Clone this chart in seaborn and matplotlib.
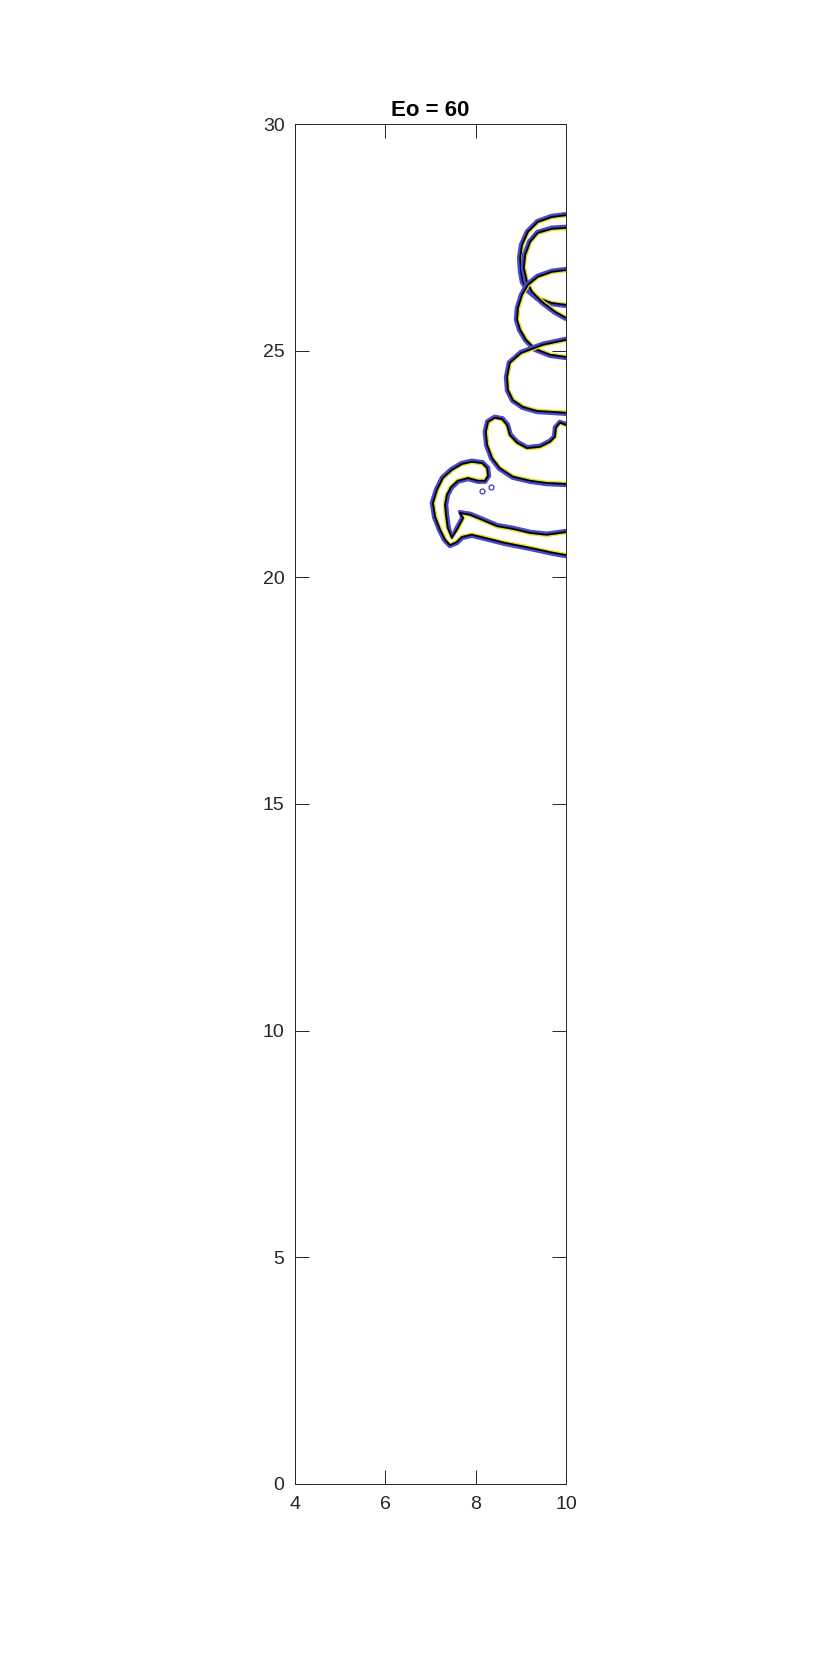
import numpy as np
import pandas as pd
import matplotlib
matplotlib.use("Agg")
import matplotlib.pyplot as plt
import seaborn as sns

# interface traces (x, y), each ends on the axis x = 10
ring_a_x = [10.0, 9.68, 9.37, 9.15, 9.02, 8.98, 9.00, 9.04, 9.15, 9.37, 9.68, 10.0]
ring_a_y = [27.99, 27.95, 27.84, 27.62, 27.33, 27.05, 26.74, 26.52, 26.34, 26.16, 26.05, 26.01]

ring_b_x = [10.0, 9.68, 9.37, 9.20, 9.09, 9.06, 9.13, 9.24, 9.46, 9.75, 10.0]
ring_b_y = [27.71, 27.69, 27.60, 27.40, 27.11, 26.83, 26.52, 26.30, 26.08, 25.86, 25.72]

ring_c_x = [10.0, 9.68, 9.37, 9.15, 9.02, 8.93, 8.91, 8.98, 9.11, 9.31, 9.64, 10.0]
ring_c_y = [26.78, 26.74, 26.63, 26.45, 26.23, 25.94, 25.68, 25.46, 25.24, 25.04, 24.91, 24.86]

cap_x = [10.0, 9.48, 9.00, 8.75, 8.69, 8.71, 8.82, 9.04, 9.35, 10.0]
cap_y = [25.24, 25.13, 24.95, 24.73, 24.42, 24.13, 23.91, 23.76, 23.67, 23.63]

knob_x = [10.0, 9.86, 9.77, 9.75, 9.64, 9.42, 9.13, 8.91, 8.75, 8.69, 8.58, 8.42,
          8.27, 8.22, 8.25, 8.36, 8.53, 8.82, 9.20, 9.57, 10.0]
knob_y = [23.36, 23.41, 23.30, 23.10, 22.99, 22.88, 22.85, 22.97, 23.14, 23.36, 23.49, 23.52,
          23.43, 23.21, 22.92, 22.63, 22.41, 22.22, 22.13, 22.08, 22.06]

hook_x = [10.0, 9.57, 9.20, 8.82, 8.47, 8.14, 7.87, 7.65, 7.72, 7.58, 7.47, 7.38, 7.34,
          7.32, 7.36, 7.45, 7.60, 7.83, 8.05, 8.20, 8.27, 8.25, 8.14, 7.91, 7.69, 7.47,
          7.27, 7.14, 7.05, 7.10, 7.21, 7.32, 7.43, 7.58, 7.69, 7.91, 8.20, 8.64, 9.20,
          9.71, 10.0]
hook_y = [21.00, 20.94, 20.98, 21.07, 21.13, 21.27, 21.38, 21.42, 21.31, 21.05, 20.87, 21.09, 21.38,
          21.60, 21.82, 21.99, 22.13, 22.19, 22.13, 22.13, 22.24, 22.41, 22.52, 22.55, 22.50, 22.37,
          22.19, 21.93, 21.64, 21.33, 21.05, 20.83, 20.71, 20.78, 20.89, 20.94, 20.87, 20.76, 20.65,
          20.54, 20.49]

drops_x = [8.14, 8.33]
drops_y = [21.91, 21.99]

curves = [(ring_a_x, ring_a_y), (ring_b_x, ring_b_y), (ring_c_x, ring_c_y),
          (cap_x, cap_y), (knob_x, knob_y), (hook_x, hook_y)]


def shifted(x, y, d):
    # move a trace sideways; d > 0 goes to the inside (left of travel)
    x = np.asarray(x, float)
    y = np.asarray(y, float)
    tx, ty = np.gradient(x), np.gradient(y)
    n = np.hypot(tx, ty)
    return x - d * ty / n, y + d * tx / n


sns.set_style("white")
plt.rcParams["font.family"] = ["Liberation Sans", "DejaVu Sans"]

fig = plt.figure(figsize=(8.33, 16.67), dpi=100)
ax = fig.add_axes([0.3541, 0.1098, 0.3257, 0.8158])

# contour levels: outer blue, inner yellow, thin green, black on top
levels = [(-0.04, "#4848cc", 2.0), (0.034, "#f4d820", 1.2), (0.016, "#40b890", 0.5), (0.0, "black", 1.3)]
for cx, cy in curves:
    for d, col, lw in levels:
        sx, sy = shifted(cx, cy, d)
        df = pd.DataFrame({"x": sx, "y": sy})
        sns.lineplot(data=df, x="x", y="y", sort=False, estimator=None,
                     color=col, lw=lw, ax=ax, solid_joinstyle="round")

ax.plot(drops_x, drops_y, "o", mfc="none", mec="#4848cc", ms=3.5, mew=1.0)

ax.set_xlim(4, 10)
ax.set_ylim(0, 30)
ax.set_xticks([4, 6, 8, 10])
ax.set_yticks([0, 5, 10, 15, 20, 25, 30])
ax.set_xlabel("")
ax.set_ylabel("")
ax.tick_params(direction="in", length=10, width=0.7, colors="#262626", labelsize=14,
               bottom=True, left=True, top=True, right=True, pad=7.5)
ax.tick_params(axis="x", pad=9)
for s in ax.spines.values():
    s.set_color("#262626")
    s.set_linewidth(0.7)
ax.set_title("Eo = 60", fontsize=16, fontweight="bold", color="black", pad=6)

fig.savefig("out.png", dpi=100)
